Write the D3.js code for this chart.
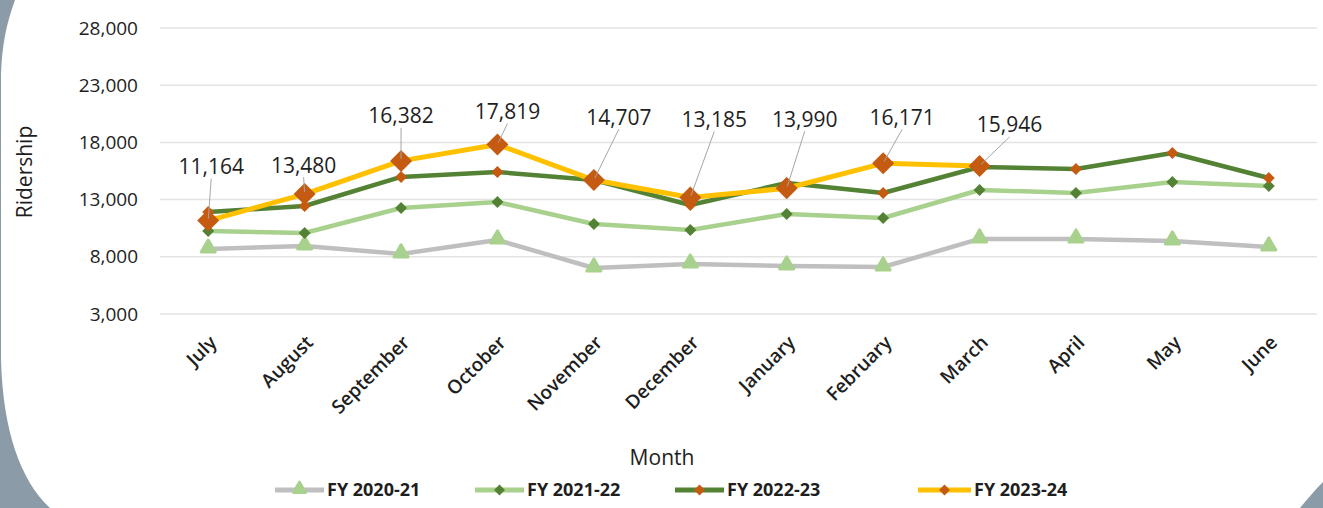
<!DOCTYPE html>
<html>
<head>
<meta charset="utf-8">
<script src="https://cdn.jsdelivr.net/npm/d3@7"></script>
<style>
  html, body { margin: 0; padding: 0; background: #8b9ba8; }
  svg { display: block; }
  text { font-family: "Open Sans", sans-serif; fill: #1e1e1e; }
</style>
</head>
<body>
<svg id="chart" width="1323" height="508"></svg>
<script>
// months of the fiscal year
var months = ["July", "August", "September", "October", "November", "December",
  "January", "February", "March", "April", "May", "June"];

var fy2021 = [8680, 8940, 8250, 9470, 7020, 7370, 7200, 7110, 9560, 9560, 9380, 8860];
var fy2122 = [10250, 10080, 12270, 12790, 10870, 10340, 11740, 11390, 13840, 13580, 14540, 14190];
var fy2223 = [11920, 12440, 14980, 15410, 14710, 12530, 14450, 13580, 15850, 15680, 17070, 14890];
var fy2324 = [11164, 13480, 16382, 17819, 14707, 13185, 13990, 16171, 15946];

var yTicks = [3000, 8000, 13000, 18000, 23000, 28000];

var seriesNames = ["FY 2020-21", "FY 2021-22", "FY 2022-23", "FY 2023-24"];

// where each FY 2023-24 label sits relative to its point (px)
var labelOffsets = [[3, -54], [-1, -29], [0, -45], [10, -33], [25, -63],
  [24, -78], [18, -69], [19, -46], [30, -41]];

var series = [
  {name: seriesNames[0], values: fy2021, line: "#bfbfbf", marker: "#a9d18e", shape: "tri", size: 13},
  {name: seriesNames[1], values: fy2122, line: "#a9d18e", marker: "#548235", shape: "dia", size: 12},
  {name: seriesNames[2], values: fy2223, line: "#548235", marker: "#c55a11", shape: "dia", size: 12},
  {name: seriesNames[3], values: fy2324, line: "#ffc000", marker: "#c55a11", shape: "dia", size: 22}
];

var svg = d3.select("#chart");

// white card on the grey slide
svg.append("path")
  .attr("d", "M15,0 C6,25 2,45 1,75 L1,360 C3,430 20,480 50,508 L1300,508 C1308,498 1316,489 1323,482 L1323,0 Z")
  .attr("fill", "#ffffff");

var x = d3.scaleBand().domain(months).range([160, 1317]);
var y = d3.scaleLinear().domain([3000, 28000]).range([314, 28]);
var cx = function(m) { return x(m) + x.bandwidth() / 2; };

// gridlines
svg.append("g").selectAll("line").data(yTicks).enter().append("line")
  .attr("x1", 160).attr("x2", 1317)
  .attr("y1", function(d) { return y(d); })
  .attr("y2", function(d) { return y(d); })
  .attr("stroke", "#e3e3e3")
  .attr("stroke-width", 1.5);

// y axis
var yAxis = svg.append("g")
  .attr("transform", "translate(160,0)")
  .call(d3.axisLeft(y).tickValues(yTicks).tickSize(0).tickPadding(22).tickFormat(d3.format(",")));
yAxis.select(".domain").remove();
yAxis.selectAll("text")
  .attr("font-family", "Open Sans, sans-serif")
  .attr("font-size", "19px")
  .attr("fill", "#1e1e1e");

// x axis
var xAxis = svg.append("g")
  .attr("transform", "translate(0,314)")
  .call(d3.axisBottom(x).tickSize(0).tickPadding(0));
xAxis.select(".domain").remove();
xAxis.selectAll("text")
  .attr("font-family", "Open Sans, sans-serif")
  .attr("font-size", "19px")
  .attr("font-weight", 600)
  .attr("fill", "#1e1e1e")
  .attr("text-anchor", "end")
  .attr("dy", "0.35em")
  .attr("y", 0)
  .attr("transform", "translate(5,25) rotate(-45)");

// axis titles
svg.append("text")
  .attr("transform", "translate(32,172) rotate(-90)")
  .attr("text-anchor", "middle")
  .attr("font-size", "21px")
  .text("Ridership");

svg.append("text")
  .attr("x", 662).attr("y", 465)
  .attr("text-anchor", "middle")
  .attr("font-size", "21px")
  .text("Month");

function markerPath(shape, size) {
  if (shape === "tri") {
    return d3.symbol().type(d3.symbolTriangle).size(size * size * 0.5)();
  }
  var s = size / Math.SQRT2;
  return d3.symbol().type(d3.symbolSquare).size(s * s)();
}

function drawMarker(g, s, px, py, size) {
  var m = g.append("path")
    .attr("d", markerPath(s.shape, size))
    .attr("fill", s.marker);
  if (s.shape === "tri") {
    m.attr("transform", "translate(" + px + "," + (py - 1) + ")")
      .attr("stroke", s.marker).attr("stroke-width", 3).attr("stroke-linejoin", "round");
  } else {
    m.attr("transform", "translate(" + px + "," + py + ") rotate(45)");
  }
}

var line = d3.line()
  .x(function(d, i) { return cx(months[i]); })
  .y(function(d) { return y(d); });

series.forEach(function(s) {
  var g = svg.append("g");
  g.append("path")
    .datum(s.values)
    .attr("d", line)
    .attr("fill", "none")
    .attr("stroke", s.line)
    .attr("stroke-width", s.name === "FY 2023-24" ? 5 : 4.5)
    .attr("stroke-linejoin", "round");
  s.values.forEach(function(v, i) {
    drawMarker(g, s, cx(months[i]), y(v), s.size);
  });
});

// data labels for FY 2023-24
var labels = svg.append("g");
fy2324.forEach(function(v, i) {
  var px = cx(months[i]), py = y(v);
  var lx = px + labelOffsets[i][0], ly = py + labelOffsets[i][1];
  var tx = lx, ty = ly + 12;
  var dx = px - tx, dy = py - ty, len = Math.sqrt(dx * dx + dy * dy);
  if (len > 8) {
    labels.append("line")
      .attr("x1", tx).attr("y1", ty)
      .attr("x2", px - dx / len * 2).attr("y2", py - dy / len * 2)
      .attr("stroke", "#a6a6a6")
      .attr("stroke-width", 1);
  }
  labels.append("text")
    .attr("x", lx).attr("y", ly)
    .attr("dy", "0.36em")
    .attr("text-anchor", "middle")
    .attr("font-size", "21px")
    .text(d3.format(",")(v));
});

// legend
var legendX = [275, 475, 675, 918];
var legend = svg.append("g").attr("transform", "translate(0,490)");
series.forEach(function(s, i) {
  var lg = legend.append("g").attr("transform", "translate(" + legendX[i] + ",0)");
  var w = i === 3 ? 53 : 49;
  lg.append("line")
    .attr("x1", 0).attr("x2", w)
    .attr("stroke", s.line)
    .attr("stroke-width", 5);
  drawMarker(lg, s, w / 2, 0, 11);
  lg.append("text")
    .attr("x", w + 3)
    .attr("dy", "0.35em")
    .attr("font-size", "18px")
    .attr("font-weight", 700)
    .text(s.name);
});
</script>
</body>
</html>
